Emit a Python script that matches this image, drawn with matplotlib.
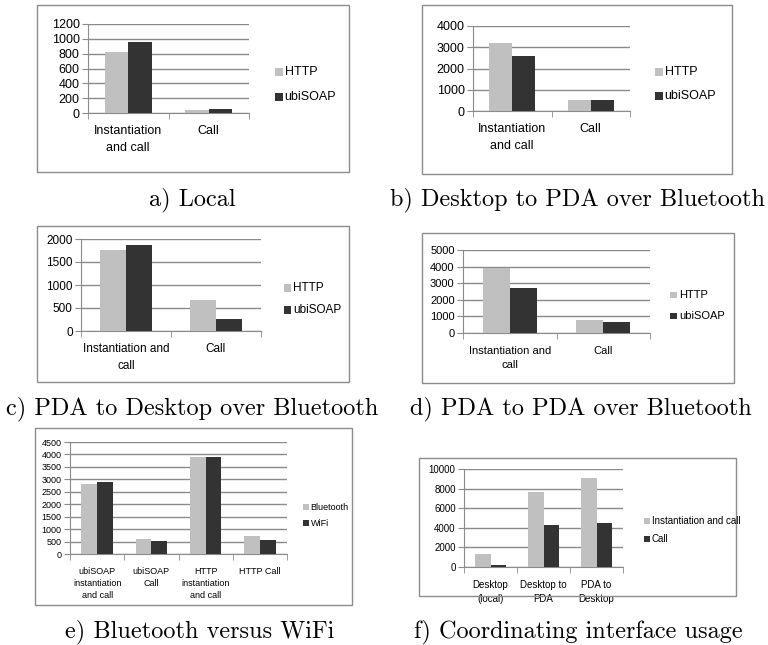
import matplotlib
matplotlib.use("Agg")
import matplotlib.pyplot as plt
from matplotlib.patches import Rectangle
import numpy as np

W, H = 768, 645
LIGHT = "#c0c0c0"
DARK = "#333333"
GRID = "#8a8a8a"

# ---- data ----
cats_ab = ["Instantiation\nand call", "Call"]
cats_cd = ["Instantiation and\ncall", "Call"]
series_http_soap = ["HTTP", "ubiSOAP"]

a_http = [820, 35]
a_ubisoap = [960, 50]
a_ticks = [0, 200, 400, 600, 800, 1000, 1200]

b_http = [3200, 500]
b_ubisoap = [2570, 500]
b_ticks = [0, 1000, 2000, 3000, 4000]

c_http = [1770, 680]
c_ubisoap = [1860, 270]
c_ticks = [0, 500, 1000, 1500, 2000]

d_http = [3930, 770]
d_ubisoap = [2720, 650]
d_ticks = [0, 1000, 2000, 3000, 4000, 5000]

e_cats = ["ubiSOAP\ninstantiation\nand call", "ubiSOAP\nCall", "HTTP\ninstantiation\nand call", "HTTP Call"]
e_series = ["Bluetooth", "WiFi"]
e_bluetooth = [2810, 600, 3910, 720]
e_wifi = [2880, 530, 3880, 560]
e_ticks = [0, 500, 1000, 1500, 2000, 2500, 3000, 3500, 4000, 4500]

f_cats = ["Desktop\n(local)", "Desktop to\nPDA", "PDA to\nDesktop"]
f_series = ["Instantiation and call", "Call"]
f_inst = [1300, 7700, 9050]
f_call = [200, 4240, 4480]
f_ticks = [0, 2000, 4000, 6000, 8000, 10000]

captions = ["a) Local", "b) Desktop to PDA over Bluetooth",
            "c) PDA to Desktop over Bluetooth", "d) PDA to PDA over Bluetooth",
            "e) Bluetooth versus WiFi", "f) Coordinating interface usage"]

fig = plt.figure(figsize=(W / 100, H / 100), dpi=100)
plt.rcParams["font.family"] = ["Liberation Sans", "DejaVu Sans"]


def fx(x):
    return x / W


def fy(y):
    return 1 - y / H


def frame(x0, y0, x1, y1):
    fig.patches.append(Rectangle((fx(x0), fy(y1)), fx(x1) - fx(x0), fy(y0) - fy(y1),
                                 transform=fig.transFigure, fill=False,
                                 edgecolor="#8c8c8c", linewidth=1.0))


def panel(ax_box, cats, s1, s2, ticks, names, leg_x, leg_ys, fs, bw=0.29):
    x0, y0, x1, y1 = ax_box
    ax = fig.add_axes([fx(x0), fy(y1), fx(x1) - fx(x0), fy(y0) - fy(y1)])
    n = len(cats)
    xs = np.arange(n)
    ax.bar(xs - bw / 2, s1, width=bw, color=LIGHT, zorder=3)
    ax.bar(xs + bw / 2, s2, width=bw, color=DARK, zorder=3)
    ax.set_xlim(-0.5, n - 0.5)
    ax.set_ylim(ticks[0], ticks[-1])
    ax.set_yticks(ticks)
    ax.set_yticklabels([str(t) for t in ticks], fontsize=fs)
    ax.yaxis.grid(True, color=GRID, linewidth=1.0, zorder=0)
    ax.set_xticks(xs)
    ax.set_xticklabels(cats, fontsize=fs, linespacing=1.5)
    ax.set_xticks(np.arange(n + 1) - 0.5, minor=True)
    ax.tick_params(axis="x", which="major", length=0, pad=9)
    ax.tick_params(axis="x", which="minor", length=4, color=GRID, direction="out")
    ax.tick_params(axis="y", length=4, color=GRID, pad=2)
    for s in ["top", "right"]:
        ax.spines[s].set_visible(False)
    for s in ["left", "bottom"]:
        ax.spines[s].set_color(GRID)
    ax.set_facecolor("none")
    sq = fs * 0.85
    for name, col, ly in zip(names, [LIGHT, DARK], leg_ys):
        fig.patches.append(Rectangle((fx(leg_x), fy(ly + sq / 2)), sq / W, sq / H,
                                     transform=fig.transFigure, facecolor=col,
                                     edgecolor="none"))
        fig.text(fx(leg_x + sq + 2), fy(ly), name, fontsize=fs, va="center", ha="left")
    return ax


# frames
frame(37, 5, 349, 172)
frame(422, 5, 732, 174)
frame(37, 226, 349, 382)
frame(422, 233, 734, 383)
frame(35, 428, 352, 605)
frame(419, 458, 736, 596)

panel((88, 24, 249, 113), cats_ab, a_http, a_ubisoap, a_ticks, series_http_soap,
      275, (72, 97), 9)
panel((473, 26, 630, 111), cats_ab, b_http, b_ubisoap, b_ticks, series_http_soap,
      655, (72, 96), 9)
panel((81, 239, 261, 331), cats_cd, c_http, c_ubisoap, c_ticks, series_http_soap,
      284, (288, 310), 8.5)
panel((463, 250, 650, 333), cats_cd, d_http, d_ubisoap, d_ticks, series_http_soap,
      670, (295, 316), 8)
panel((70, 442, 287, 554), e_cats, e_bluetooth, e_wifi, e_ticks, e_series,
      303, (507, 523), 6.5)
panel((464, 469, 623, 567), f_cats, f_inst, f_call, f_ticks, f_series,
      644, (521, 539), 7)

cap_pos = [(192, 200), (578, 200), (192, 409), (581, 409), (200, 632), (578, 632)]
for text, (cx, cy) in zip(captions, cap_pos):
    fig.text(fx(cx), fy(cy), text, family=["cmr10", "DejaVu Serif"], fontsize=17.5,
             ha="center", va="center")

fig.savefig("out.png", dpi=100)
